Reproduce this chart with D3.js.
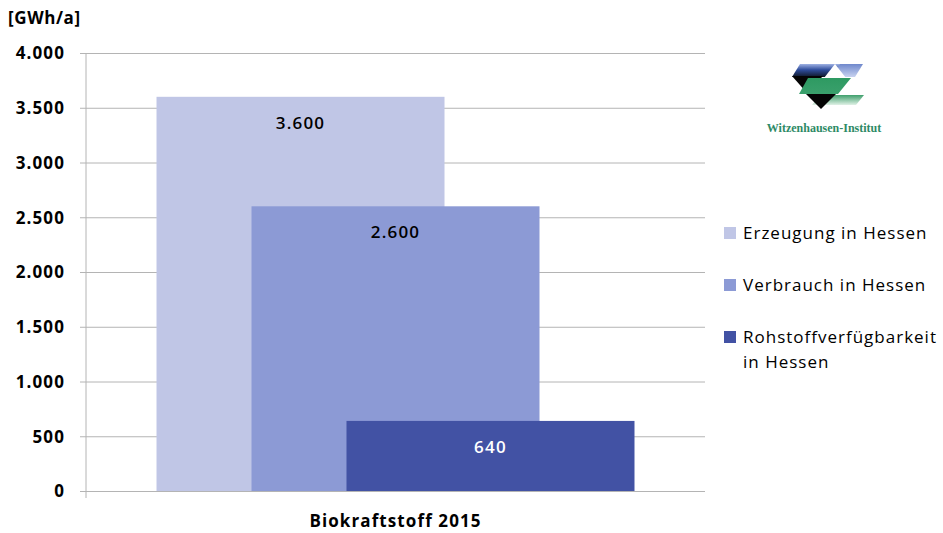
<!DOCTYPE html>
<html>
<head>
<meta charset="utf-8">
<script src="https://cdn.jsdelivr.net/npm/d3@7"></script>
<style>
  body { margin: 0; background: #fff; }
  text { font-family: "Open Sans", Lato, sans-serif; }
</style>
</head>
<body>
<svg id="chart" width="943" height="533"></svg>
<script>
const categories = ["Biokraftstoff 2015"];
const seriesNames = ["Erzeugung in Hessen", "Verbrauch in Hessen", "Rohstoffverfügbarkeit in Hessen"];
const seriesValues = [3600, 2600, 640];
const seriesColors = ["#c0c6e6", "#8c9ad5", "#4252a4"];
const yTicks = [0, 500, 1000, 1500, 2000, 2500, 3000, 3500, 4000];

const margin = { top: 53, right: 238, bottom: 42, left: 86 };
const width = 943, height = 533;
const svg = d3.select("#chart");

const fmt = d3.formatLocale({ decimal: ",", thousands: ".", grouping: [3], currency: ["", "€"] }).format(",d");

const yScale = d3.scaleLinear().domain([0, 4000]).range([height - margin.bottom, margin.top]);
const xScale = d3.scaleBand().domain(categories)
    .range([margin.left, width - margin.right])
    .paddingOuter(0.1475);
const barWidth = 288;
const xSub = d3.scalePoint().domain(seriesNames)
    .range([barWidth / 2, xScale.bandwidth() - barWidth / 2]);

// grid + y axis
const yAxis = svg.append("g")
    .attr("transform", `translate(${margin.left},0)`)
    .call(d3.axisLeft(yScale).tickValues(yTicks).tickFormat(fmt)
        .tickSize(-(width - margin.right - margin.left)).tickPadding(21));
yAxis.select(".domain").remove();
yAxis.selectAll(".tick line").attr("stroke", "#b4b4b4").attr("x1", -6);
yAxis.selectAll(".tick text")
    .attr("fill", "#000")
    .style("font-size", "17px")
    .style("font-weight", "bold")
    .style("letter-spacing", "1.1px")
    .attr("dy", "0.35em");

svg.append("line")
    .attr("x1", margin.left).attr("x2", margin.left)
    .attr("y1", yScale(4000)).attr("y2", yScale(0) + 7)
    .attr("stroke", "#b4b4b4");

// bars
const g = svg.append("g");
const rows = seriesNames.map((s, i) => ({ name: s, value: seriesValues[i], color: seriesColors[i] }));
g.selectAll("rect")
    .data(rows)
    .join("rect")
    .attr("x", d => xScale(categories[0]) + xSub(d.name) - barWidth / 2)
    .attr("width", barWidth)
    .attr("y", d => yScale(d.value))
    .attr("height", d => yScale(0) - yScale(d.value))
    .attr("fill", d => d.color);

g.selectAll("text.val")
    .data(rows)
    .join("text")
    .attr("class", "val")
    .attr("x", d => xScale(categories[0]) + xSub(d.name))
    .attr("y", d => yScale(d.value) + 32)
    .attr("text-anchor", "middle")
    .attr("fill", (d, i) => i === 2 ? "#fff" : "#000")
    .style("font-size", "17px")
    .style("font-weight", 600)
    .style("letter-spacing", "1.2px")
    .text(d => fmt(d.value));

// x label
svg.append("text")
    .attr("x", xScale(categories[0]) + xScale.bandwidth() / 2)
    .attr("y", 527)
    .attr("text-anchor", "middle")
    .style("font-size", "17px")
    .style("font-weight", "bold")
    .style("letter-spacing", "1.1px")
    .text(categories[0]);

// unit
svg.append("text")
    .attr("x", 8).attr("y", 24)
    .style("font-size", "17px")
    .style("font-weight", "bold")
    .style("letter-spacing", "0.6px")
    .text("[GWh/a]");

// legend
const legendLines = [["Erzeugung in Hessen"], ["Verbrauch in Hessen"], ["Rohstoffverfügbarkeit", "in Hessen"]];
const legendY = [233, 285, 337];
const legend = svg.append("g");
legendLines.forEach((lines, i) => {
    legend.append("rect")
        .attr("x", 724).attr("y", legendY[i] - 6)
        .attr("width", 12).attr("height", 12)
        .attr("fill", seriesColors[i]);
    const t = legend.append("text")
        .attr("x", 743).attr("y", legendY[i] + 6)
        .style("font-size", "17px")
        .style("letter-spacing", "1px");
    lines.forEach((l, j) => {
        t.append("tspan").attr("x", 743).attr("dy", j === 0 ? 0 : 25).text(l);
    });
});

// logo
const defs = svg.append("defs");
const grad = (id, x2, y2, stops) => {
    const lg = defs.append("linearGradient").attr("id", id)
        .attr("x1", 0).attr("y1", 0).attr("x2", x2).attr("y2", y2);
    stops.forEach(s => lg.append("stop").attr("offset", s[0]).attr("stop-color", s[1]));
};
grad("gTop", 0, 1, [["0%", "#9fb2e4"], ["45%", "#2f4d9c"], ["100%", "#101828"]]);
grad("gTopR", 0, 1, [["0%", "#6f88cc"], ["100%", "#c8d3f0"]]);
grad("gGreen", 0, 1, [["0%", "#2e9a62"], ["100%", "#3aa06c"]]);
grad("gFade", 0, 1, [["0%", "#3f9f6c"], ["100%", "#e0f1e6"]]);
const logo = svg.append("g");
const poly = (pts, fill) => logo.append("polygon").attr("points", pts.map(p => p.join(",")).join(" ")).attr("fill", fill);
poly([[800, 64], [846, 64], [838, 77], [792, 77]], "url(#gTop)");
poly([[840, 64], [863, 64], [855, 77], [832, 77]], "url(#gTopR)");
poly([[792, 76], [823, 76], [807, 93]], "#050505");
poly([[808, 78], [851, 78], [838, 94], [799, 94]], "url(#gGreen)");
poly([[835, 64], [846, 78], [824, 78]], "#ffffff");
poly([[820, 95], [864, 95], [856, 105], [812, 105]], "url(#gFade)");
poly([[806, 94], [836, 94], [821, 109]], "#050505");
logo.append("text")
    .attr("x", 824).attr("y", 132)
    .attr("text-anchor", "middle")
    .style("font-family", "'Liberation Serif', serif")
    .style("font-weight", "bold")
    .style("font-size", "12px")
    .attr("fill", "#2e8a66")
    .text("Witzenhausen-Institut");
</script>
</body>
</html>
